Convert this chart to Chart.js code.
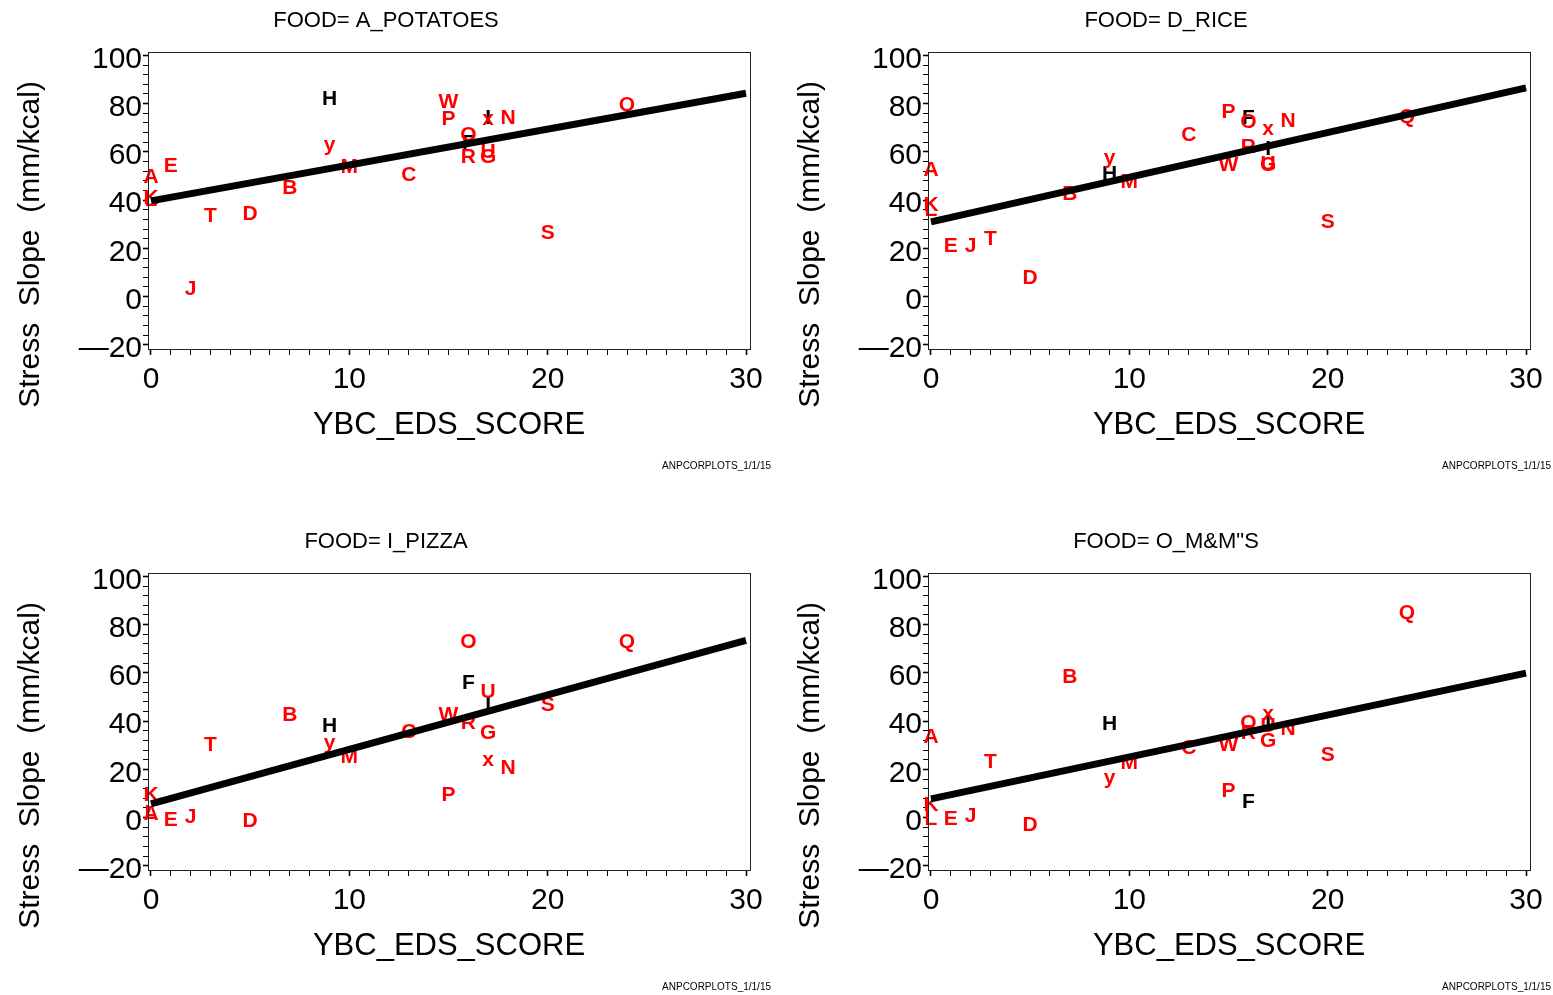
<!DOCTYPE html>
<html>
<head>
<meta charset="utf-8">
<title>Stress slope vs YBC_EDS_SCORE by food</title>
<script src="https://cdn.jsdelivr.net/npm/chart.js@4.4.1/dist/chart.umd.min.js"></script>
<style>
  html, body { margin: 0; background: #fff; overflow: hidden; }
  body { width: 1553px; height: 995px; position: relative; }
  canvas { position: absolute; }
  #foodA { left: 0; top: 0; }
  #foodD { left: 780px; top: 0; }
  #foodI { left: 0; top: 521px; }
  #foodO { left: 780px; top: 521px; }
</style>
</head>
<body>
<canvas id="foodA" width="772" height="474"></canvas>
<canvas id="foodD" width="772" height="474"></canvas>
<canvas id="foodI" width="772" height="474"></canvas>
<canvas id="foodO" width="772" height="474"></canvas>
<script>
// Subject codes (plotted as letters) and their EDS score, same for every food.
var subjects = ["A","B","C","D","E","F","G","H","I","J","K","L","M","N","O","P","Q","R","S","T","U","W","x","y"];
var edsScore = [0, 7, 13, 5, 1, 16, 17, 9, 17, 2, 0, 0, 10, 18, 16, 15, 24, 16, 20, 3, 17, 15, 17, 9];
var blackSubjects = ["F", "H", "I"];

// Stress slope (mm/kcal) per subject.
var slopePotatoes = [49.4, 45, 50.4, 34, 54, 63.5, 58, 82, 74, 3, 41, 40, 53.6, 74, 67, 73.5, 79.3, 57.8, 26.3, 33.5, 60, 80.7, 73.7, 62.6];
var slopeRice     = [52.6, 42.5, 66.8, 7.8, 21, 74, 54.6, 50.8, 61, 21, 37.9, 36, 47.4, 72.6, 72.4, 76.5, 74.4, 62, 30.7, 24, 55, 54.6, 69.6, 57.4];
var slopePizza    = [1.5, 42.5, 35.5, -1.5, -1, 55.7, 34.9, 38, 46.7, 0.1, 9.2, 2, 25, 20.3, 72.6, 9.2, 72.6, 39, 46.7, 30, 52.2, 42.5, 24, 31];
var slopeMMs      = [33.5, 58.2, 28.6, -3.3, -0.5, 6.4, 31.8, 38.8, 39, 0.4, 5, -0.5, 22.4, 36.5, 39, 11, 84.6, 34.9, 25.8, 23, 38, 30, 42.9, 16.5];

// Regression line values at EDS score 0 and 30.
var fitX        = [0, 30];
var fitPotatoes = [39.7, 84.3];
var fitRice     = [31, 86.5];
var fitPizza    = [5.7, 73.5];
var fitMMs      = [7.8, 59.9];

var xMajorTicks = [0, 10, 20, 30];
var xMinorStep = 1;
var yMajorTicks = [-20, 0, 20, 40, 60, 80, 100];
var yMinorStep = 4;

var FONT = "'Liberation Sans', Arial, Helvetica, sans-serif";
var footnote = "ANPCORPLOTS_1/1/15";
var yTitle = "Stress  Slope  (mm/kcal)";

function tickRange(majors, step) {
  var out = [];
  var lo = majors[0], hi = majors[majors.length - 1];
  for (var v = lo; v <= hi + 1e-9; v += step) out.push({ value: Math.round(v * 1000) / 1000 });
  return out;
}

function isMajor(list, v) {
  return list.indexOf(Math.round(v * 1000) / 1000) !== -1;
}

// Letters are drawn before the datasets so the fit line sits on top of them.
var letterPlugin = {
  id: "letters",
  beforeDatasetsDraw: function (chart) {
    var ctx = chart.ctx;
    chart.data.datasets.forEach(function (ds, di) {
      if (!ds.letters) return;
      var meta = chart.getDatasetMeta(di);
      ctx.save();
      ctx.font = "bold 21px " + FONT;
      ctx.textAlign = "center";
      ctx.textBaseline = "middle";
      // black ones first, red drawn over them
      [true, false].forEach(function (wantBlack) {
        meta.data.forEach(function (pt, i) {
          var black = blackSubjects.indexOf(ds.letters[i]) !== -1;
          if (black !== wantBlack) return;
          ctx.fillStyle = black ? "#000" : "#ff0000";
          ctx.fillText(ds.letters[i], pt.x, pt.y);
        });
      });
      ctx.restore();
    });
  },
};

// Frame, panel title (centred on the whole panel), y title and footnote.
var framePlugin = {
  id: "frame",
  afterDraw: function (chart) {
    var a = chart.chartArea, ctx = chart.ctx;
    var title = chart.options.plugins.panelTitle;
    ctx.save();
    ctx.strokeStyle = "#222";
    ctx.lineWidth = 1;
    ctx.strokeRect(Math.round(a.left) + 0.5, Math.round(a.top) + 0.5, Math.round(a.right - a.left), Math.round(a.bottom - a.top));
    ctx.fillStyle = "#000";
    ctx.textAlign = "center";
    ctx.textBaseline = "middle";
    ctx.font = "22px " + FONT;
    ctx.fillText(title, chart.width / 2, a.top - 31);
    // y axis title sits a little below the plot middle as in the original
    ctx.font = "30px " + FONT;
    ctx.translate(31, (a.top + a.bottom) / 2 + 44);
    ctx.rotate(-Math.PI / 2);
    ctx.fillText(yTitle, 0, 0);
    ctx.restore();
    ctx.save();
    ctx.fillStyle = "#000";
    ctx.font = "10px " + FONT;
    ctx.textAlign = "right";
    ctx.textBaseline = "middle";
    ctx.fillText(footnote, chart.width - 1, a.bottom + 117);
    ctx.restore();
  },
};

function panel(id, title, slopes, fit) {
  var points = edsScore.map(function (x, i) { return { x: x, y: slopes[i] }; });
  var line = fitX.map(function (x, i) { return { x: x, y: fit[i] }; });
  return new Chart(document.getElementById(id), {
    type: "scatter",
    data: {
      datasets: [
        {
          type: "line",
          data: line,
          borderColor: "#000",
          borderWidth: 7,
          pointRadius: 0,
          fill: false,
        },
        {
          data: points,
          letters: subjects,
          pointRadius: 0,
          pointHoverRadius: 0,
        },
      ],
    },
    options: {
      responsive: false,
      animation: false,
      events: [],
      layout: { padding: { left: 0, right: 22, top: 52, bottom: 25 } },
      plugins: {
        legend: { display: false },
        tooltip: { enabled: false },
        title: { display: false },
        panelTitle: title,
      },
      scales: {
        x: {
          type: "linear",
          min: -0.15,
          max: 30.2,
          afterBuildTicks: function (s) { s.ticks = tickRange(xMajorTicks, xMinorStep); },
          afterFit: function (s) { s.height = 100; },
          ticks: {
            autoSkip: false,
            maxRotation: 0,
            color: "#000",
            padding: 7,
            font: { family: FONT, size: 30 },
            callback: function (v) { return isMajor(xMajorTicks, v) ? String(v) : ""; },
          },
          grid: {
            drawOnChartArea: false,
            tickLength: 6,
            tickColor: "#000",
            tickWidth: function (c) { return c.tick && isMajor(xMajorTicks, c.tick.value) ? 1.6 : 1; },
          },
          border: { display: true, color: "#222" },
          title: {
            display: true,
            text: "YBC_EDS_SCORE",
            color: "#000",
            font: { family: FONT, size: 31 },
            padding: { top: 0, bottom: 5 },
          },
        },
        y: {
          type: "linear",
          min: -21.7,
          max: 101.4,
          afterBuildTicks: function (s) { s.ticks = tickRange(yMajorTicks, yMinorStep); },
          afterFit: function (s) { s.width = 148; },
          ticks: {
            autoSkip: false,
            color: "#000",
            padding: 1,
            labelOffset: 4,
            font: { family: FONT, size: 30 },
            callback: function (v) {
              if (!isMajor(yMajorTicks, v)) return "";
              return v < 0 ? "\u2014" + Math.abs(v) : String(v);
            },
          },
          grid: {
            drawOnChartArea: false,
            tickLength: 5,
            tickColor: "#000",
            tickWidth: function (c) { return c.tick && isMajor(yMajorTicks, c.tick.value) ? 1.6 : 1; },
          },
          border: { display: true, color: "#222" },
        },
      },
    },
    plugins: [letterPlugin, framePlugin],
  });
}

panel("foodA", "FOOD= A_POTATOES", slopePotatoes, fitPotatoes);
panel("foodD", "FOOD= D_RICE", slopeRice, fitRice);
panel("foodI", "FOOD= I_PIZZA", slopePizza, fitPizza);
panel("foodO", "FOOD= O_M&M\"S", slopeMMs, fitMMs);
</script>
</body>
</html>
